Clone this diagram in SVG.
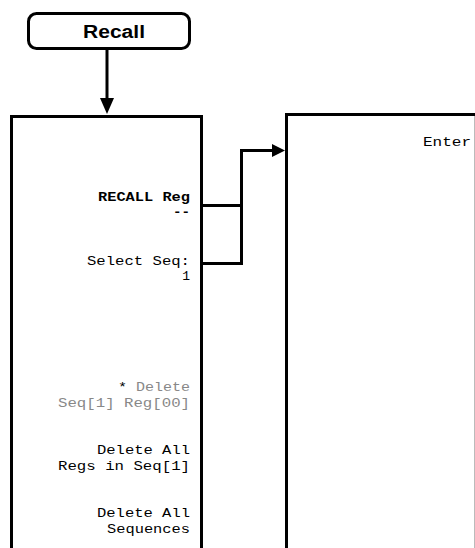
<svg xmlns="http://www.w3.org/2000/svg" width="475" height="548" viewBox="0 0 475 548">
<style>
.box{fill:#fff;stroke:#000;stroke-width:3}
.conn{fill:none;stroke:#000;stroke-width:3}
.sk{font-family:"Liberation Mono","DejaVu Sans Mono",monospace;font-size:13px;fill:#000;text-anchor:end}
.gray{fill:#888}
.bold{font-weight:bold}
</style>
<rect width="475" height="548" fill="#fff"/>
<g id="recall-key">
<rect class="box" x="28.5" y="13.5" width="161" height="35" rx="8"/>
<text x="114" y="38" font-family="'Liberation Sans',Arial,sans-serif" font-size="18" font-weight="bold" text-anchor="middle" textLength="62" lengthAdjust="spacingAndGlyphs">Recall</text>
</g>
<g id="menu-left">
<rect class="box" x="11.5" y="116.5" width="190" height="440"/>
<text class="sk bold" x="190" y="201" textLength="92" lengthAdjust="spacingAndGlyphs">RECALL Reg</text>
<text class="sk bold" x="190" y="216" font-size="12" textLength="17" lengthAdjust="spacingAndGlyphs">--</text>
<text class="sk" x="190" y="265" textLength="103" lengthAdjust="spacingAndGlyphs">Select Seq:</text>
<text class="sk" x="190" y="280">1</text>
<text class="sk" x="190" y="391" textLength="72" lengthAdjust="spacingAndGlyphs">* <tspan class="gray">Delete</tspan></text>
<text class="sk gray" x="190" y="407" textLength="132" lengthAdjust="spacingAndGlyphs">Seq[1] Reg[00]</text>
<text class="sk" x="190" y="454" textLength="93" lengthAdjust="spacingAndGlyphs">Delete All</text>
<text class="sk" x="190" y="470" textLength="132" lengthAdjust="spacingAndGlyphs">Regs in Seq[1]</text>
<text class="sk" x="190" y="517" textLength="93" lengthAdjust="spacingAndGlyphs">Delete All</text>
<text class="sk" x="190" y="533" textLength="83" lengthAdjust="spacingAndGlyphs">Sequences</text>
</g>
<g id="menu-right">
<path d="M286.5,560 V114.5 H476" class="conn"/>
<line x1="474.5" y1="116" x2="474.5" y2="548" stroke="#bbb" stroke-width="1"/>
<text class="sk" x="471" y="146" textLength="48" lengthAdjust="spacingAndGlyphs">Enter</text>
</g>
<g id="connectors">
<line class="conn" x1="107" y1="48" x2="107" y2="100"/>
<path d="M100,98 L114,98 L107,114 Z" fill="#000"/>
<path class="conn" d="M202,205.5 H241.5 V264"/>
<path class="conn" d="M202,263.5 H241.5 V150.5 H273"/>
<path d="M272,144 L285,150.5 L272,157 Z" fill="#000"/>
</g>
</svg>
